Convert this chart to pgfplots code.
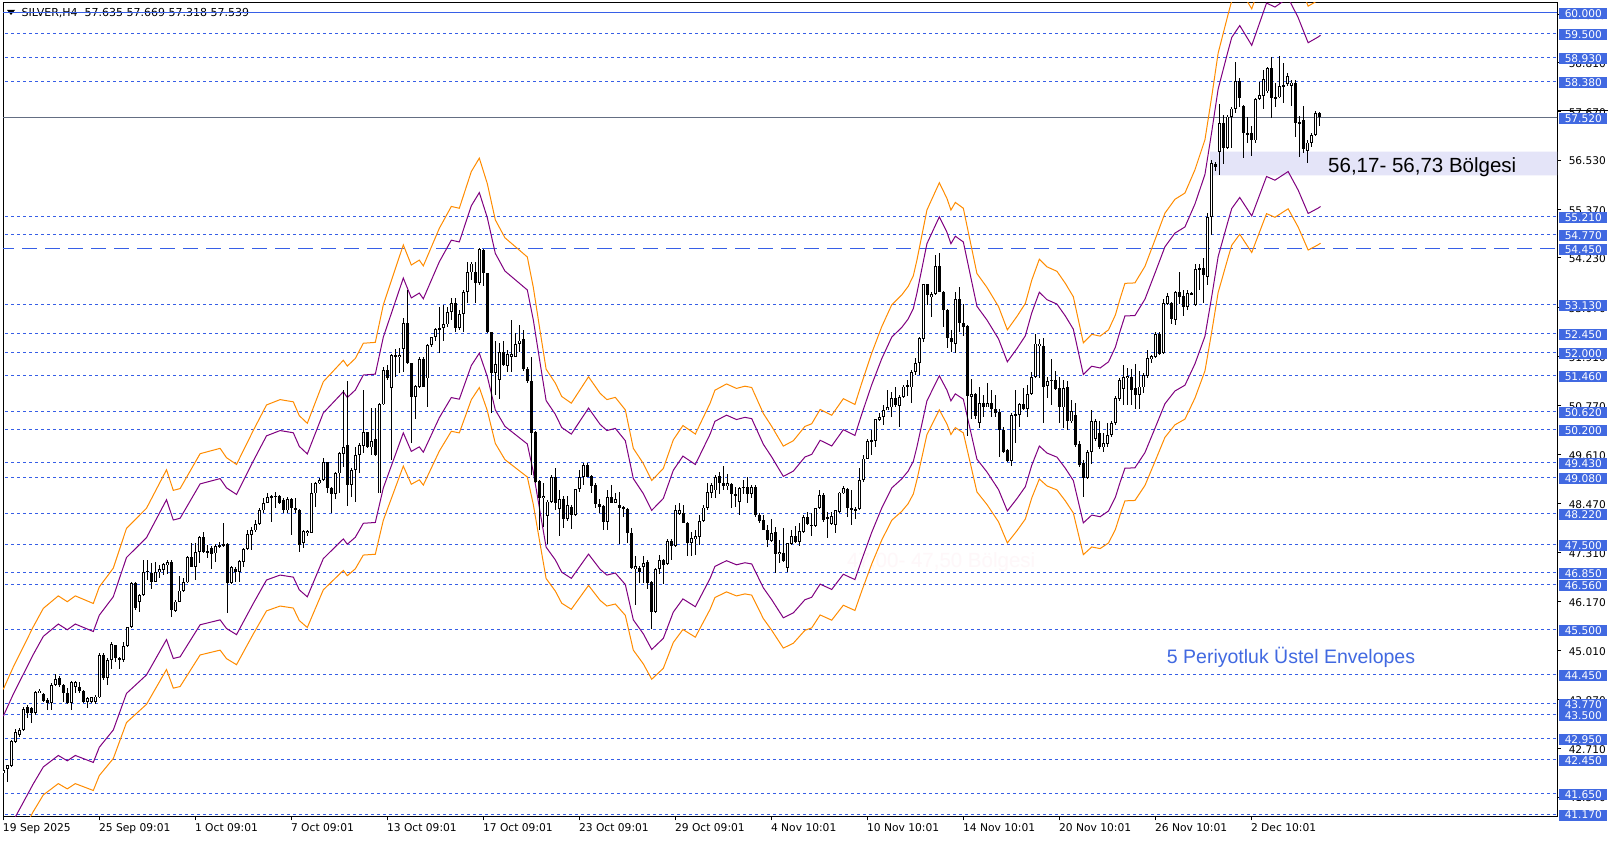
\documentclass[border=0pt]{standalone}
\usepackage{pgfplots}
\pgfplotsset{compat=1.18}
\usepackage{pgfplotstable}
\usepackage{fontspec}
\setmainfont{DejaVu Sans}
\newfontfamily\lib{Liberation Sans}

\definecolor{lvl}{RGB}{55,95,230}
\definecolor{lblbox}{RGB}{65,105,225}
\definecolor{envorange}{RGB}{255,140,0}
\definecolor{envpurple}{RGB}{128,0,128}
\definecolor{zone}{RGB}{228,228,248}
\definecolor{ghost}{RGB}{254,247,249}
\definecolor{gline}{RGB}{100,110,130}

% H4 candles: index, open, high, low, close
\pgfplotstableread{
i o h l c
0 42.13 42.28 41.93 42.21
1 42.22 42.32 41.93 42.32
2 42.30 42.91 42.27 42.89
3 42.87 43.16 42.83 43.09
4 43.03 43.18 42.99 43.14
5 43.14 43.69 43.11 43.63
6 43.68 43.73 43.42 43.54
7 43.65 43.69 43.32 43.54
8 43.54 44.07 43.50 44.03
9 44.02 44.10 44.01 44.07
10 43.99 44.01 43.81 43.83
11 43.85 43.89 43.61 43.77
12 43.79 44.24 43.61 44.20
13 44.20 44.45 44.18 44.34
14 44.37 44.41 44.16 44.20
15 44.20 44.23 43.81 44.01
16 44.01 44.12 43.76 43.77
17 43.77 44.30 43.61 44.28
18 44.15 44.30 44.02 44.28
19 44.16 44.28 44.02 44.05
20 44.07 44.08 43.79 43.81
21 43.81 43.93 43.65 43.89
22 43.81 43.93 43.79 43.91
23 43.81 43.97 43.76 43.93
24 43.91 44.96 43.89 44.91
25 44.91 44.95 44.33 44.36
26 44.36 44.83 44.20 44.79
27 44.79 45.20 44.57 45.16
28 45.13 45.14 44.75 44.83
29 44.83 44.87 44.57 44.79
30 44.79 45.20 44.75 45.12
31 45.12 45.57 45.10 45.56
32 45.56 46.63 45.53 46.59
33 46.59 46.61 45.96 46.00
34 46.16 46.35 45.92 46.32
35 46.32 47.14 46.28 46.86
36 46.86 47.14 46.67 46.89
37 46.84 47.07 46.45 46.63
38 46.63 47.10 46.61 46.85
39 46.86 47.02 46.71 46.92
40 46.90 47.07 46.79 47.04
41 47.02 47.14 46.82 47.08
42 47.08 47.14 45.79 45.96
43 45.95 46.20 45.92 46.16
44 46.16 46.77 46.14 46.42
45 46.42 46.71 46.39 46.61
46 46.61 47.22 46.59 47.20
47 47.20 47.53 46.97 46.98
48 46.98 47.53 46.67 47.33
49 47.33 47.69 47.07 47.67
50 47.67 47.80 47.29 47.33
51 47.35 47.49 47.18 47.32
52 47.43 47.47 46.92 47.28
53 47.29 47.51 47.10 47.47
54 47.45 47.57 47.41 47.49
55 47.48 48.01 47.45 47.50
56 47.51 47.53 45.89 46.60
57 46.59 47.00 46.57 46.98
58 46.93 46.97 46.63 46.86
59 46.86 47.14 46.62 47.11
60 47.10 47.41 46.98 47.39
61 47.39 47.84 47.37 47.75
62 47.72 47.92 47.37 47.83
63 47.83 48.08 47.80 47.98
64 47.98 48.35 47.96 48.31
65 48.30 48.59 48.25 48.48
66 48.48 48.72 48.47 48.61
67 48.64 48.66 48.04 48.61
68 48.62 48.74 48.35 48.65
69 48.64 48.66 48.45 48.47
70 48.55 48.59 48.23 48.30
71 48.30 48.62 48.25 48.56
72 48.56 48.59 47.72 48.35
73 48.35 48.59 48.23 48.30
74 48.31 48.33 47.33 47.49
75 47.53 47.84 47.41 47.82
76 47.76 47.84 47.69 47.82
77 47.78 48.94 47.76 48.70
78 48.70 48.98 48.39 48.94
79 48.94 49.06 48.92 49.02
80 49.02 49.53 49.00 49.43
81 49.43 49.45 48.70 48.82
82 48.82 48.84 48.25 48.68
83 48.68 49.21 48.56 49.17
84 49.17 49.68 48.70 49.64
85 49.63 51.13 49.33 49.80
86 49.84 51.34 48.41 48.91
87 48.91 49.29 48.62 49.25
88 49.25 49.80 48.49 49.60
89 49.60 49.88 49.17 49.84
90 49.81 51.13 49.64 50.15
91 50.15 50.15 49.76 49.80
92 49.78 50.70 49.60 49.92
93 49.97 50.70 49.58 49.60
94 48.70 50.82 48.70 50.79
95 50.79 51.68 50.78 51.60
96 51.60 51.72 51.36 51.40
97 51.17 51.97 49.49 51.95
98 51.91 52.09 51.44 51.95
99 51.90 52.11 51.54 51.95
100 52.09 52.81 51.56 52.70
101 52.70 53.48 51.74 51.76
102 51.76 51.76 49.89 50.96
103 50.96 51.25 50.44 51.22
104 51.21 51.90 51.17 51.85
105 51.85 51.91 51.19 51.21
106 51.40 52.21 50.74 52.19
107 52.19 52.38 52.15 52.37
108 52.37 52.59 52.27 52.56
109 52.54 53.09 51.99 52.58
110 52.58 53.13 52.27 52.67
111 52.67 53.09 52.62 52.97
112 52.97 53.28 52.77 53.18
113 53.18 53.28 52.48 52.58
114 52.58 53.01 52.55 52.91
115 52.91 53.48 52.50 53.44
116 53.44 54.14 53.18 53.89
117 53.89 54.14 53.71 54.10
118 53.89 54.14 53.18 53.64
119 53.64 54.46 53.60 54.43
120 54.42 54.45 53.57 53.87
121 53.87 53.88 52.46 52.48
122 52.48 52.50 50.58 51.54
123 51.54 52.27 51.01 51.74
124 51.36 52.23 50.91 52.03
125 52.03 52.27 51.69 51.72
126 51.69 52.07 51.56 51.98
127 51.91 52.77 51.56 51.98
128 51.91 52.46 51.90 52.21
129 52.21 52.66 52.03 52.29
130 52.33 52.55 51.58 51.62
131 51.62 51.68 51.30 51.33
132 51.33 51.91 49.13 50.13
133 50.15 50.17 48.94 48.98
134 49.00 49.02 47.84 48.59
135 48.59 48.94 47.92 48.64
136 48.18 48.55 47.51 48.51
137 48.50 49.13 48.47 49.09
138 49.09 49.29 48.31 48.47
139 48.33 48.78 47.69 48.56
140 48.56 48.64 47.88 48.10
141 48.10 48.64 48.06 48.43
142 48.39 48.43 47.86 48.19
143 48.19 48.81 48.18 48.80
144 48.80 49.25 48.74 49.09
145 49.09 49.42 48.90 49.37
146 49.37 49.42 49.08 49.09
147 49.11 49.13 48.72 48.88
148 48.90 48.94 48.37 48.45
149 48.45 48.56 48.23 48.39
150 48.41 48.43 47.83 48.04
151 48.04 48.77 47.84 48.61
152 48.62 48.91 48.47 48.48
153 48.48 48.70 48.47 48.56
154 48.43 48.74 47.51 48.37
155 48.39 48.41 48.15 48.33
156 48.34 48.36 47.54 47.76
157 47.76 47.90 46.92 46.94
158 46.92 47.22 46.08 47.00
159 46.96 47.00 46.59 46.86
160 46.98 47.22 46.59 47.06
161 47.10 47.14 46.45 46.59
162 46.63 46.65 45.51 45.92
163 45.92 46.94 45.90 46.92
164 46.92 47.26 46.81 47.14
165 47.14 47.15 46.57 47.02
166 47.04 47.62 47.02 47.59
167 47.59 47.62 47.14 47.47
168 47.47 48.43 47.44 48.30
169 48.22 48.47 48.19 48.30
170 48.25 48.43 48.00 48.01
171 48.01 48.04 47.23 47.53
172 47.53 47.80 47.23 47.65
173 47.62 47.84 47.26 47.69
174 47.67 48.19 47.49 48.06
175 48.06 48.43 48.04 48.37
176 48.35 48.94 48.31 48.74
177 48.72 48.95 48.59 48.90
178 48.77 49.13 48.59 49.09
179 49.11 49.21 48.69 48.94
180 48.94 49.34 48.77 48.88
181 48.88 49.16 48.78 48.94
182 48.92 48.94 48.37 48.69
183 48.69 48.84 48.39 48.66
184 48.51 48.84 48.19 48.82
185 48.86 49.02 48.69 48.82
186 48.84 49.09 48.48 48.69
187 48.69 48.90 48.59 48.86
188 48.86 48.90 48.15 48.19
189 48.19 48.23 48.01 48.06
190 48.08 48.19 47.83 47.84
191 47.83 47.96 47.45 47.61
192 47.59 48.09 47.57 47.78
193 47.80 47.92 46.84 47.28
194 47.28 47.61 47.06 47.33
195 47.31 47.88 47.10 47.12
196 46.94 47.54 46.86 47.53
197 47.51 47.83 47.49 47.70
198 47.70 47.93 47.53 47.57
199 47.57 48.00 47.47 47.82
200 47.80 48.19 47.78 48.15
201 48.15 48.27 47.96 47.98
202 47.97 48.23 47.70 47.93
203 47.93 48.37 47.92 48.35
204 48.35 48.77 48.33 48.66
205 48.66 48.70 48.04 48.08
206 48.12 48.27 47.65 48.15
207 47.98 48.27 47.96 48.17
208 47.96 48.31 47.76 48.30
209 48.27 48.74 48.23 48.72
210 48.70 48.88 48.69 48.82
211 48.80 48.82 48.15 48.35
212 48.35 48.78 47.96 48.30
213 48.33 48.39 48.09 48.30
214 48.33 49.29 48.31 49.02
215 49.02 49.60 48.98 49.52
216 49.52 49.99 49.50 49.92
217 49.96 50.19 49.60 49.92
218 49.94 50.46 49.78 50.44
219 50.43 50.58 50.39 50.50
220 50.50 50.78 50.31 50.66
221 50.66 51.13 50.65 50.72
222 50.72 51.09 50.50 50.93
223 50.93 51.21 50.74 50.78
224 50.75 51.01 50.25 50.97
225 50.97 51.25 50.93 51.21
226 51.25 51.36 50.99 51.19
227 51.19 51.61 50.83 51.56
228 51.56 51.87 51.48 51.77
229 51.77 52.38 51.48 52.34
230 52.32 53.63 52.26 53.62
231 53.62 53.63 53.13 53.36
232 53.31 53.44 52.85 53.38
233 53.38 54.30 53.36 54.05
234 54.05 54.35 53.42 53.44
235 53.44 53.46 52.62 53.01
236 53.01 53.02 52.11 52.34
237 52.34 52.55 52.03 52.26
238 52.22 53.42 52.01 53.26
239 53.26 53.54 52.50 52.71
240 52.71 53.16 52.40 52.62
241 52.63 52.66 50.05 50.99
242 50.97 51.38 50.46 51.04
243 51.04 51.05 50.46 50.52
244 50.36 51.21 50.23 50.82
245 50.82 51.01 50.49 50.72
246 50.72 51.29 50.72 50.82
247 50.82 51.13 50.49 50.68
248 50.69 51.01 50.49 50.60
249 50.61 50.68 49.56 50.19
250 50.19 50.27 49.66 49.68
251 49.72 49.74 49.45 49.47
252 49.47 50.58 49.35 50.54
253 50.53 51.13 49.88 50.56
254 50.54 50.83 50.25 50.80
255 50.80 51.17 50.66 50.68
256 50.68 51.25 50.49 51.04
257 51.04 51.56 51.01 51.43
258 51.43 52.44 51.40 52.22
259 52.16 52.32 51.40 52.22
260 52.16 52.34 50.35 51.21
261 51.22 51.43 50.93 51.35
262 51.36 51.85 50.78 51.35
263 51.36 51.58 51.13 51.15
264 51.17 51.44 50.35 50.74
265 50.72 51.36 50.23 51.17
266 51.19 51.33 50.19 50.39
267 50.39 50.89 50.35 50.64
268 50.54 50.82 49.80 49.84
269 49.86 49.92 49.33 49.37
270 49.41 49.49 48.62 49.06
271 49.06 49.72 49.03 49.68
272 49.68 50.66 49.39 50.41
273 49.97 50.46 49.94 50.41
274 50.11 50.39 49.74 49.78
275 49.78 50.11 49.68 49.88
276 49.86 50.35 49.80 50.07
277 50.07 50.39 50.03 50.35
278 50.36 50.99 50.31 50.93
279 50.91 51.40 50.88 51.36
280 51.15 51.72 50.78 51.44
281 51.40 51.64 50.78 51.46
282 51.43 51.62 50.78 51.13
283 51.17 51.74 50.68 51.01
284 51.01 51.58 50.68 51.21
285 51.19 51.53 51.07 51.48
286 51.46 52.07 51.40 51.87
287 51.85 51.95 51.76 51.93
288 51.91 52.48 51.87 52.45
289 52.45 52.48 51.95 51.98
290 51.99 53.26 51.98 53.17
291 53.15 53.40 53.13 53.34
292 53.18 53.20 52.68 52.79
293 52.77 53.46 52.66 53.43
294 53.43 53.91 53.15 53.32
295 53.34 53.48 52.87 53.09
296 53.09 53.48 53.01 53.40
297 53.38 53.42 53.37 53.40
298 53.13 54.10 53.10 53.96
299 53.96 54.10 53.48 53.99
300 53.99 54.22 53.18 53.83
301 53.78 55.28 53.60 55.20
302 55.20 56.52 54.77 56.45
303 56.44 56.49 56.28 56.36
304 56.73 57.85 56.18 57.39
305 57.39 57.59 56.44 56.81
306 56.81 57.59 56.78 57.55
307 57.55 57.78 56.81 57.74
308 57.72 58.84 57.64 58.39
309 58.39 58.45 57.78 57.98
310 57.80 57.82 56.57 57.16
311 57.17 57.55 56.92 57.12
312 57.16 57.33 56.63 57.00
313 56.99 57.98 56.94 57.96
314 57.96 58.37 57.94 58.06
315 58.04 58.65 57.74 58.43
316 58.14 58.72 58.10 58.68
317 58.68 58.94 57.51 57.98
318 57.98 58.33 57.78 58.00
319 58.00 58.97 57.98 58.27
320 58.27 58.80 57.86 58.29
321 58.32 58.57 58.27 58.50
322 58.27 58.41 57.80 58.35
323 58.35 58.40 57.06 57.39
324 57.39 57.56 56.59 57.43
325 57.47 57.80 56.70 56.78
326 56.75 57.00 56.47 56.94
327 56.94 57.16 56.84 57.12
328 57.12 57.67 57.10 57.63
329 57.635 57.669 57.318 57.539
}\candles

% centre line of the 5-period exponential envelopes
\pgfplotstableread{
i m
0 42.00
2.5 42.50
7.5 43.40
10 43.81
13.75 44.09
16 43.96
18 44.09
22.5 43.92
24 44.29
27.5 44.71
30.8 45.60
35.8 46.05
40.8 46.91
42.5 46.45
44.2 46.49
49.2 47.27
54.2 47.39
55.8 47.18
58.3 47.03
62.5 47.79
65.8 48.36
69.2 48.48
72.5 48.43
74 48.12
76 47.95
80 48.88
85 49.36
86 49.23
88 49.40
90 49.74
93 49.76
95 50.60
100 51.94
102 51.49
104 51.60
105 51.47
109 52.31
112 52.80
114 52.76
117 53.58
119 53.88
121 53.31
123 52.50
125.4 52.10
131 51.67
132.5 50.99
134.2 50.01
135.7 49.16
138 48.85
139.6 48.55
142 48.40
146.3 48.99
149.2 48.62
150.9 48.48
153 48.53
155.5 48.25
157.5 47.39
160 47.05
162.1 46.67
165 46.94
167.5 47.58
169.9 47.90
173 47.71
176.7 48.40
177.9 48.69
180.8 48.83
183.3 48.73
185.4 48.78
187.1 48.75
190 48.17
192.1 47.88
195 47.44
197.5 47.56
200.4 47.88
202.1 47.94
204.2 48.26
207.1 48.13
210 48.50
212.9 48.37
214.6 48.85
217.1 49.52
219.6 50.11
222.1 50.60
224.6 50.82
226.2 51.01
227.5 51.25
228.4 51.60
230.9 52.72
234 53.33
235.9 52.98
236.9 52.72
238 52.89
240 52.76
243.4 51.30
245.9 50.99
248.8 50.56
251 50.04
253.4 50.34
255.5 50.63
257.1 51.15
259 51.62
260.9 51.45
263.4 51.35
265.5 51.08
267.5 50.78
270 49.75
272.1 49.94
274.2 49.90
276.3 50.04
278 50.37
279.2 50.74
280.4 51.08
282.9 51.09
285.4 51.46
287.9 52.05
290.4 52.65
292.9 52.96
295.4 53.10
297.9 53.62
300.4 54.29
302.1 55.26
303.7 56.23
306.2 57.10
307.1 57.40
309.1 57.67
312.1 57.22
315.8 58.18
317.9 58.09
321.2 58.30
323.7 57.85
326.2 57.28
328.7 57.41
329.3 57.45
}\env

\begin{document}
\begin{tikzpicture}[x=1bp,y=1bp]
\fill[white] (0,0) rectangle (1614,840);
\node[anchor=base west, inner sep=0pt, text=ghost, font=\lib\fontsize{20.5bp}{24bp}\selectfont] at (847,272) {47,00- 47,50 Bölgesi};
\fill[black] (7,830) -- (15,830) -- (11,825) -- cycle;
\node[anchor=base west, inner sep=0pt, font=\fontsize{11bp}{13bp}\selectfont] at (21.5,823.3) {SILVER,H4\ \ 57.635 57.669 57.318 57.539};

\begin{axis}[
  at={(3bp,23.5bp)}, anchor=south west,
  scale only axis, width=1554bp, height=813.5bp,
  xmin=-0.075, xmax=388.425, ymin=41.1133, ymax=60.2184,
  axis line style={line width=1bp, black},
  tick align=outside, major tick length=4bp,
  tick style={black, line width=1bp},
  xtick pos=bottom, ytick pos=right, yticklabel pos=right,
  xtick={0,24,...,312},
  xticklabels={19 Sep 2025,25 Sep 09:01,1 Oct 09:01,7 Oct 09:01,13 Oct 09:01,17 Oct 09:01,23 Oct 09:01,29 Oct 09:01,4 Nov 10:01,10 Nov 10:01,14 Nov 10:01,20 Nov 10:01,26 Nov 10:01,2 Dec 10:01},
  xticklabel style={anchor=north west, inner sep=0pt, xshift=-0.5bp, yshift=-3bp, font=\fontsize{10.7bp}{12bp}\selectfont},
  ytick={41.57,42.71,43.87,45.01,46.17,47.31,48.47,49.61,50.77,51.91,53.07,54.23,55.37,56.53,57.67,58.81,59.95},
  yticklabel={\pgfmathprintnumber[fixed,fixed zerofill,precision=3,assume math mode=true]{\tick}},
  yticklabel style={anchor=west, inner xsep=5.5bp, inner ysep=1.6bp, text height=7.8bp, text depth=0bp, xshift=2bp, yshift=-1bp, font=\fontsize{10.6bp}{12bp}\selectfont, text=black},
  extra y ticks={60,59.5,58.93,58.38,57.52,55.21,54.77,54.45,53.13,52.45,52,51.46,50.62,50.2,49.43,49.08,48.22,47.5,46.85,46.56,45.5,44.45,43.77,43.5,42.95,42.45,41.65,41.17},
  extra y tick style={major tick length=0pt, yticklabel style={fill=lblbox, text=white}},
]
% horizontal levels
\pgfplotsinvokeforeach{59.5,58.93,58.38,55.21,54.77,53.13,52.45,52,51.46,50.62,50.2,49.43,49.08,48.22,47.5,46.85,46.56,45.5,44.45,43.77,43.5,42.95,42.45,41.65,41.17}{
  \addplot[lvl, line width=1bp, dash pattern=on 3bp off 3bp] coordinates {(-1,#1) (392,#1)};
}
\addplot[lvl, line width=1bp] coordinates {(-1,60) (392,60)};
\addplot[gline, line width=1bp] coordinates {(-1,57.52) (392,57.52)};
\addplot[lvl, line width=1bp, dash pattern=on 15bp off 8bp] coordinates {(-1,54.45) (392,54.45)};

% zone 56.17 - 56.73
\addplot[draw=none, fill=zone] coordinates {(301.7,56.17) (392,56.17) (392,56.73) (301.7,56.73) (301.7,56.17)};

% envelopes: 3.5% and 5%
\addplot[envorange, line width=1bp] table[x=i, y expr=\thisrow{m}*1.05] {\env};
\addplot[envpurple, line width=1bp] table[x=i, y expr=\thisrow{m}*1.035] {\env};
\addplot[envpurple, line width=1bp] table[x=i, y expr=\thisrow{m}*0.965] {\env};
\addplot[envorange, line width=1bp] table[x=i, y expr=\thisrow{m}*0.95] {\env};

% wicks
\addplot[draw=none, mark=none, error bars/.cd, y dir=both, y explicit, error mark=none,
  error bar style={draw=black, solid, line width=1bp, line cap=butt}]
  table[x=i, y expr={0.5*(\thisrow{h}+\thisrow{l})}, y error expr={0.5*(\thisrow{h}-\thisrow{l})}] {\candles};
% bearish bodies
\addplot[draw=none, mark=none, error bars/.cd, y dir=both, y explicit, error mark=none,
  error bar style={draw=black, solid, line width=3.2bp, line cap=butt}]
  table[x=i, y expr={\thisrow{c}<\thisrow{o} ? 0.5*(\thisrow{o}+\thisrow{c}) : nan}, y error expr={max(0.5*abs(\thisrow{c}-\thisrow{o}),0.012)}] {\candles};
% bullish bodies: outline then white inside
\addplot[draw=none, mark=none, error bars/.cd, y dir=both, y explicit, error mark=none,
  error bar style={draw=black, solid, line width=3.2bp, line cap=butt}]
  table[x=i, y expr={\thisrow{c}<\thisrow{o} ? nan : 0.5*(\thisrow{o}+\thisrow{c})}, y error expr={max(0.5*abs(\thisrow{c}-\thisrow{o}),0.012)}] {\candles};
\addplot[draw=none, mark=none, error bars/.cd, y dir=both, y explicit, error mark=none,
  error bar style={draw=white, solid, line width=1.4bp, line cap=butt}]
  table[x=i, y expr={\thisrow{c}<\thisrow{o} ? nan : 0.5*(\thisrow{o}+\thisrow{c})}, y error expr={max(0.5*abs(\thisrow{c}-\thisrow{o})-0.021,0)}] {\candles};
\end{axis}

\node[anchor=base west, inner sep=0pt, font=\lib\fontsize{20.5bp}{24bp}\selectfont] at (1328,667.7) {56,17- 56,73 Bölgesi};
\node[anchor=base west, inner sep=0pt, text=lblbox, font=\lib\fontsize{19.5bp}{23bp}\selectfont] at (1166.7,176.7) {5 Periyotluk Üstel Envelopes};
\draw[black, line width=1.2bp] (1558,729.5) -- (1608,729.5);
\pgfresetboundingbox
\path[use as bounding box] (0,0) rectangle (1614,840);
\end{tikzpicture}
\end{document}
